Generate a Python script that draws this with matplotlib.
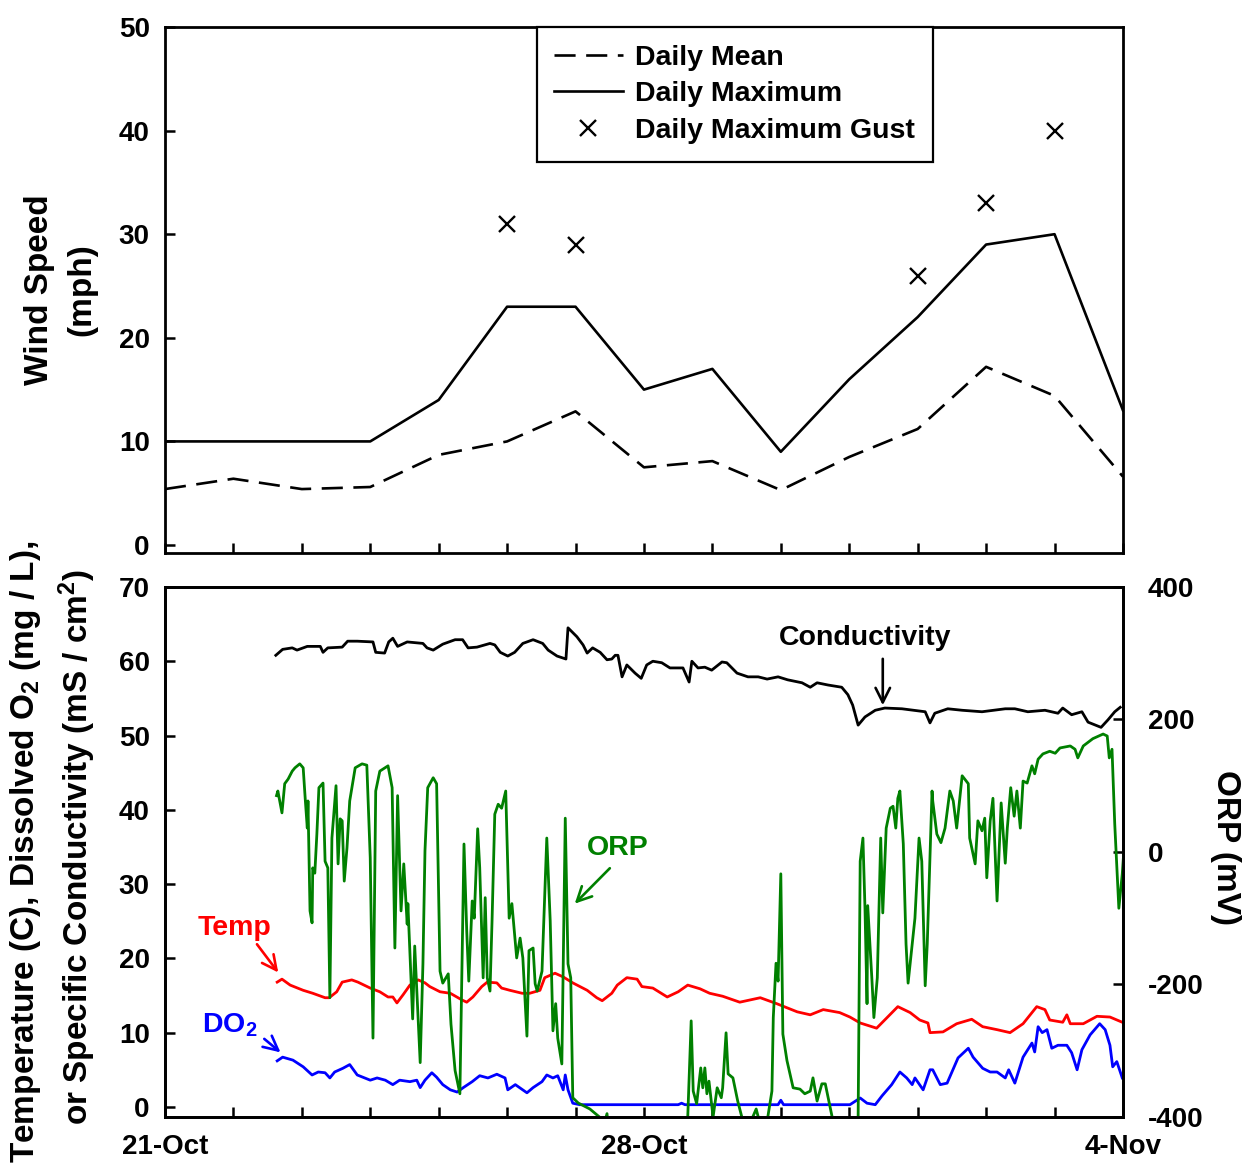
import numpy as np
import matplotlib
matplotlib.use('Agg')
import matplotlib.pyplot as plt

plt.rcParams['font.family'] = ['Liberation Sans', 'DejaVu Sans']
plt.rcParams['font.weight'] = 'bold'
plt.rcParams['font.size'] = 20
plt.rcParams['mathtext.fontset'] = 'custom'
plt.rcParams['mathtext.rm'] = 'Liberation Sans:bold'
plt.rcParams['mathtext.bf'] = 'Liberation Sans:bold'
plt.rcParams['mathtext.it'] = 'Liberation Sans:bold'
plt.rcParams['mathtext.default'] = 'bf'
plt.rcParams['axes.linewidth'] = 2.0
plt.rcParams['axes.unicode_minus'] = False

# ---- wind (days since 21-Oct) ----
wind_day = list(range(15))
wind_mean = [5.4, 6.4, 5.4, 5.6, 8.7, 10.0, 12.9, 7.5, 8.1, 5.3, 8.5, 11.2, 17.2, 14.4, 6.6]
wind_max = [10, 10, 10, 10, 14, 23, 23, 15, 17, 9, 16, 22, 29, 30, 13]
gust_day = [5, 6, 11, 12, 13]
gust_val = [31, 29, 26, 33, 40]

# ---- water quality ----
cond_day = [1.62, 1.72, 1.86, 1.93, 2.08, 2.27, 2.31, 2.38, 2.59, 2.67, 2.81, 3.04, 3.08, 3.21, 3.27,
            3.33, 3.40, 3.54, 3.77, 3.83, 3.92, 4.06, 4.24, 4.35, 4.43, 4.56, 4.75, 4.82, 4.90, 5.01,
            5.11, 5.23, 5.38, 5.52, 5.60, 5.73, 5.86, 5.89, 6.02, 6.11, 6.17, 6.25, 6.36, 6.46, 6.53,
            6.58, 6.62, 6.68, 6.75, 6.87, 6.96, 7.04, 7.13, 7.26, 7.38, 7.57, 7.66, 7.70, 7.79, 7.89,
            7.99, 8.14, 8.21, 8.36, 8.52, 8.67, 8.80, 8.96, 9.10, 9.31, 9.43, 9.53, 9.69, 9.89, 9.98,
            10.05, 10.13, 10.23, 10.38, 10.52, 10.77, 11.11, 11.18, 11.25, 11.44, 11.65, 11.94, 12.28,
            12.42, 12.61, 12.86, 13.05, 13.12, 13.25, 13.40, 13.49, 13.68, 13.78, 13.88, 13.96]
cond_val = [60.8, 61.6, 61.8, 61.5, 62.0, 62.0, 61.2, 61.8, 61.9, 62.7, 62.7, 62.6, 61.2, 61.1, 62.6,
            63.1, 62.0, 62.6, 62.4, 61.8, 61.5, 62.3, 62.9, 62.9, 61.8, 61.9, 62.4, 62.2, 61.2, 60.7,
            61.2, 62.4, 62.9, 62.4, 61.5, 60.7, 60.3, 64.5, 63.3, 62.2, 61.1, 61.8, 61.2, 60.2, 60.3,
            60.8, 60.8, 57.9, 59.5, 58.4, 57.7, 59.5, 60.0, 59.8, 59.1, 59.1, 57.2, 60.0, 59.1, 59.2,
            58.8, 59.9, 59.8, 58.4, 57.9, 57.9, 57.6, 57.9, 57.5, 57.1, 56.5, 57.1, 56.8, 56.5, 55.5,
            54.1, 51.4, 52.5, 53.4, 53.7, 53.6, 53.2, 51.7, 53.0, 53.6, 53.4, 53.2, 53.6,
            53.6, 53.2, 53.4, 53.0, 53.7, 52.8, 53.2, 51.8, 51.1, 52.1, 53.2, 53.8]

temp_day = [1.64, 1.71, 1.83, 2.02, 2.16, 2.34, 2.40, 2.51, 2.59, 2.73, 2.82, 3.00, 3.14, 3.26, 3.33,
            3.39, 3.48, 3.58, 3.70, 3.80, 3.87, 4.02, 4.17, 4.34, 4.41, 4.50, 4.63, 4.71, 4.85, 4.92,
            5.04, 5.22, 5.33, 5.48, 5.55, 5.70, 5.82, 5.96, 6.17, 6.31, 6.39, 6.53, 6.61, 6.75, 6.90,
            6.97, 7.13, 7.34, 7.50, 7.64, 7.82, 7.96, 8.15, 8.40, 8.70, 8.94, 9.24, 9.43, 9.62, 9.86,
            10.01, 10.16, 10.40, 10.55, 10.71, 10.89, 11.03, 11.15, 11.18, 11.37, 11.57, 11.79, 11.95,
            12.16, 12.35, 12.54, 12.74, 12.86, 12.93, 13.12, 13.18, 13.23, 13.42, 13.62, 13.81, 13.99]
temp_val = [16.8, 17.2, 16.4, 15.7, 15.3, 14.7, 14.7, 15.5, 16.8, 17.1, 16.8, 16.0, 15.5, 14.8, 14.8,
            14.0, 15.1, 16.4, 17.1, 16.7, 16.2, 15.5, 15.3, 14.4, 14.1, 14.8, 16.2, 16.8, 16.7, 16.0,
            15.7, 15.3, 15.3, 15.7, 17.4, 18.0, 17.5, 16.7, 15.7, 14.7, 14.3, 15.3, 16.4, 17.4, 17.2,
            16.2, 16.0, 14.8, 15.5, 16.4, 15.9, 15.3, 14.9, 14.1, 14.7, 13.9, 12.8, 12.4, 13.1, 12.7,
            12.1, 11.3, 10.6, 12.0, 13.5, 12.7, 11.7, 11.3, 10.0, 10.1, 11.2, 11.8, 10.8,
            10.4, 10.0, 11.2, 13.5, 13.1, 11.7, 11.4, 12.4, 11.2, 11.2, 12.2, 12.1, 11.4]

do_day = [1.64, 1.72, 1.87, 2.02, 2.15, 2.24, 2.34, 2.41, 2.48, 2.60, 2.70, 2.81, 3.00, 3.10, 3.22,
          3.33, 3.43, 3.58, 3.68, 3.73, 3.80, 3.90, 3.97, 4.06, 4.17, 4.27, 4.36, 4.49, 4.60, 4.72,
          4.85, 4.97, 5.01, 5.12, 5.29, 5.38, 5.51, 5.58, 5.67, 5.74, 5.82, 5.85, 5.89, 5.96, 6.06,
          7.50, 7.55, 7.60, 8.96, 9.00, 9.04, 10.01, 10.16, 10.26, 10.38, 10.48, 10.62, 10.74, 10.84,
          10.92, 10.96, 11.08, 11.18, 11.22, 11.33, 11.43, 11.59, 11.74, 11.81, 11.95, 12.06, 12.16,
          12.28, 12.33, 12.42, 12.54, 12.67, 12.71, 12.76, 12.82, 12.89, 12.96, 13.05, 13.18, 13.25,
          13.33, 13.40, 13.52, 13.66, 13.74, 13.81, 13.85, 13.91, 13.99]
do_val = [6.2, 6.7, 6.3, 5.4, 4.3, 4.7, 4.6, 3.9, 4.7, 5.2, 5.7, 4.3, 3.6, 3.9, 3.6,
          3.0, 3.6, 3.4, 3.6, 2.6, 3.6, 4.6, 4.0, 3.0, 2.3, 2.0, 2.6, 3.4, 4.2, 3.9,
          4.4, 3.9, 2.3, 3.0, 1.9, 2.6, 3.4, 4.3, 3.9, 4.2, 2.3, 4.3, 2.3, 0.5, 0.3,
          0.3, 0.5, 0.3, 0.3, 0.9, 0.3, 0.3, 1.2, 0.5, 0.3, 1.5, 3.0, 4.7, 3.9,
          3.0, 3.9, 2.3, 5.0, 5.0, 3.0, 3.2, 6.6, 7.9, 6.7, 5.2, 4.7, 4.7,
          3.9, 5.0, 3.2, 6.7, 8.6, 7.4, 10.8, 10.0, 10.4, 7.9, 8.3, 8.3, 7.3,
          5.0, 7.7, 9.7, 11.2, 10.4, 8.3, 5.4, 6.1, 3.9]

orp_day = [1.63, 1.65, 1.71, 1.75, 1.80, 1.86, 1.90, 1.97, 2.02, 2.05, 2.08, 2.09, 2.12, 2.15, 2.16,
           2.19, 2.22, 2.25, 2.31, 2.34, 2.38, 2.41, 2.44, 2.50, 2.53, 2.56, 2.59, 2.62, 2.66, 2.70,
           2.78, 2.88, 2.95, 3.00, 3.04, 3.08, 3.14, 3.26, 3.32, 3.36, 3.40, 3.45, 3.49, 3.54, 3.55,
           3.62, 3.65, 3.73, 3.77, 3.80, 3.84, 3.92, 3.97, 4.02, 4.06, 4.14, 4.18, 4.24, 4.31, 4.37,
           4.41, 4.44, 4.49, 4.52, 4.57, 4.60, 4.65, 4.68, 4.71, 4.75, 4.78, 4.82, 4.87, 4.92, 4.98,
           5.03, 5.07, 5.14, 5.19, 5.23, 5.29, 5.32, 5.38, 5.41, 5.44, 5.51, 5.58, 5.63, 5.67, 5.71,
           5.74, 5.80, 5.85, 5.89, 5.93, 5.96, 6.04, 6.21, 6.36, 6.42, 6.46, 6.50, 7.60, 7.64, 7.69,
           7.72, 7.77, 7.83, 7.86, 7.89, 7.92, 7.95, 8.01, 8.07, 8.13, 8.15, 8.20, 8.23, 8.30, 8.37,
           8.43, 8.50, 8.59, 8.64, 8.67, 8.74, 8.81, 8.87, 8.89, 8.93, 8.96, 9.00, 9.03, 9.09, 9.18,
           9.28, 9.35, 9.43, 9.47, 9.53, 9.60, 9.65, 9.75, 9.90, 10.10, 10.13, 10.16, 10.20, 10.23,
           10.26, 10.27, 10.33, 10.36, 10.41, 10.46, 10.49, 10.54, 10.60, 10.64, 10.68, 10.71, 10.74,
           10.79, 10.83, 10.86, 10.92, 10.96, 11.02, 11.06, 11.11, 11.14, 11.21, 11.22, 11.28, 11.34,
           11.40, 11.47, 11.52, 11.57, 11.65, 11.74, 11.76, 11.84, 11.88, 11.94, 11.98, 12.01, 12.06,
           12.10, 12.16, 12.22, 12.28, 12.31, 12.36, 12.41, 12.45, 12.50, 12.54, 12.60, 12.67, 12.71,
           12.76, 12.83, 12.93, 13.01, 13.08, 13.23, 13.30, 13.34, 13.42, 13.56, 13.71, 13.77, 13.80,
           13.84, 13.88, 13.94, 13.99, 14.01]
orp_val = [85, 92, 59, 103, 110, 122, 127, 133, 127, 80, 36, 77, -89, -107, -24,
           -32, 27, 97, 104, -14, -24, -220, 21, 100, -18, 50, 47, -44, 6, 77,
           127, 133, 131, -9, -281, 92, 122, 130, 97, -145, 85, -89, -18, -109, -78,
           -252, -142, -318, -169, 2, 97, 112, 103, -180, -198, -184, -260, -330, -365, 12,
           -119, -195, -74, -100, 35, -24, -190, -69, -190, -210, -104, 57, 72, 66, 92,
           -100, -78, -160, -130, -160, -278, -149, -145, -199, -210, -180, 21, -104, -270, -229,
           -281, -320, 51, -169, -190, -371, -379, -388, -401, -410, -395, -440, -440, -400, -255,
           -361, -380, -326, -356, -326, -365, -346, -400, -356, -371, -356, -273, -335, -341, -376,
           -400, -440, -400, -388, -400, -440, -400, -361, -250, -168, -195, -33, -275, -315, -356,
           -358, -365, -361, -341, -376, -350, -350, -400, -440, -440, -400, -14, 21, -85,
           -229, -81, -190, -250, -190, 21, -92, 36, 66, 69, 36, 81, 92,
           12, -139, -198, -139, -100, 21, -14, -202, -139, 92, 77, 27, 14,
           36, 92, 77, 36, 115, 103, 21, -18, 47, 32, 51, -39, 47,
           81, -74, 74, -17, 36, 97, 54, 92, 36, 107, 104, 130, 118,
           140, 148, 152, 149, 157, 160, 155, 142, 160, 171, 178, 175, 142,
           155, 42, -85, -33, -3]

xtick_labels = ['21-Oct', '', '', '', '', '', '', '28-Oct', '', '', '', '', '', '', '4-Nov']

fig = plt.figure(figsize=(12.44, 11.63), dpi=100)
ax_top = fig.add_axes([0.1326, 0.5245, 0.7701, 0.4523])
ax_bot = fig.add_axes([0.1326, 0.0396, 0.7701, 0.4557])

# top panel: wind
ax_top.plot(wind_day, wind_mean, color='k', lw=1.9, dashes=(8, 4), label='Daily Mean')
ax_top.plot(wind_day, wind_max, color='k', lw=1.9, label='Daily Maximum')
ax_top.plot(gust_day, gust_val, 'kx', ms=12, mew=1.7, linestyle='none', label='Daily Maximum Gust')
ax_top.set_xlim(0, 14)
ax_top.set_ylim(-0.77, 50)
ax_top.set_yticks(range(0, 51, 10))
ax_top.set_xticks(range(15))
ax_top.set_xticklabels([])
ax_top.tick_params(direction='in', length=7, width=1.8, labelsize=20, pad=11)
leg = ax_top.legend(loc='upper left', bbox_to_anchor=(0.388, 1.0), borderaxespad=0,
                    fancybox=False, edgecolor='k', framealpha=1, fontsize=20.5,
                    handlelength=2.4, labelspacing=0.38, borderpad=0.62, handletextpad=0.45)
leg.get_frame().set_linewidth(1.6)

# bottom panel: water quality
ax_bot.plot(cond_day, cond_val, color='k', lw=2)
ax_bot.plot(temp_day, temp_val, color='#ff0000', lw=2)
ax_bot.plot(do_day, do_val, color='#0000ff', lw=2)
ax_bot.set_xlim(0, 14)
ax_bot.set_ylim(-1.35, 70)
ax_bot.set_yticks(range(0, 71, 10))
ax_bot.set_xticks(range(15))
ax_bot.set_xticklabels(xtick_labels)
ax_bot.tick_params(direction='in', length=7, width=1.8, labelsize=20, pad=11)
ax_bot.tick_params(axis='x', pad=12)

ax_r = ax_bot.twinx()
ax_r.plot(orp_day, orp_val, color='#008000', lw=2)
ax_r.set_ylim(-400, 400)
ax_r.set_yticks(range(-400, 401, 200))
ax_r.tick_params(direction='in', length=7, width=1.8, labelsize=20, pad=18)

# axis titles
fig.text(40 / 1244, 1 - 290 / 1163, 'Wind Speed', rotation=90, ha='center', va='center', fontsize=24)
fig.text(82 / 1244, 1 - 290 / 1163, '(mph)', rotation=90, ha='center', va='center', fontsize=24)
fig.text(26 / 1244, 1 - 852 / 1163, 'Temperature (C), Dissolved O$_2$ (mg / L),',
         rotation=90, ha='center', va='center', fontsize=24)
fig.text(77 / 1244, 1 - 847 / 1163, 'or Specific Conductivity (mS / cm$^2$)',
         rotation=90, ha='center', va='center', fontsize=24)
fig.text(1225 / 1244, 1 - 848 / 1163, 'ORP (mV)', rotation=-90, ha='center', va='center', fontsize=24)

# labels with arrows
arrow = dict(arrowstyle='->', lw=1.9, mutation_scale=26)
ax_bot.text(10.23, 63.1, 'Conductivity', color='k', fontsize=20.5, ha='center', va='center')
ax_bot.annotate('', xy=(10.49, 53.7), xytext=(10.49, 60.7), arrowprops=dict(arrow, color='k'))
ax_bot.text(6.61, 34.9, 'ORP', color='#008000', fontsize=20.5, ha='center', va='center')
ax_bot.annotate('', xy=(5.96, 27.1), xytext=(6.53, 32.4), arrowprops=dict(arrow, color='#008000'))
ax_bot.text(1.01, 24.1, 'Temp', color='#ff0000', fontsize=20.5, ha='center', va='center')
ax_bot.annotate('', xy=(1.68, 17.8), xytext=(1.32, 22.2), arrowprops=dict(arrow, color='#ff0000'))
ax_bot.text(0.94, 11.0, 'DO$_2$', color='#0000ff', fontsize=20.5, ha='center', va='center')
ax_bot.annotate('', xy=(1.72, 7.1), xytext=(1.42, 9.4), arrowprops=dict(arrow, color='#0000ff'))

fig.savefig('out.png', dpi=100)
